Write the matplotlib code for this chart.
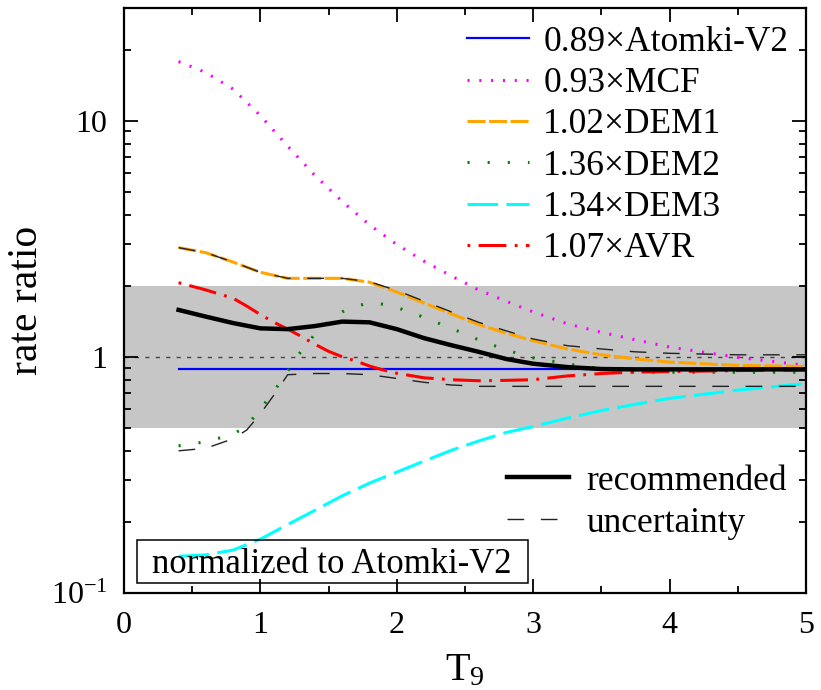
import matplotlib
matplotlib.use("Agg")
import matplotlib.pyplot as plt
from matplotlib.lines import Line2D
from matplotlib.patches import Rectangle
from matplotlib.ticker import MultipleLocator, LogLocator, NullFormatter

plt.rcParams['font.family'] = ['Liberation Serif', 'DejaVu Serif']
plt.rcParams['mathtext.fontset'] = 'custom'
plt.rcParams['mathtext.rm'] = 'Liberation Serif'
plt.rcParams['mathtext.it'] = 'Liberation Serif:italic'
plt.rcParams['lines.scale_dashes'] = False

# rate ratios vs T9, all normalized to Atomki-V2
T_atomki = [0.4, 5.0]
atomki = [0.89, 0.89]

T_mcf = [0.4, 0.6, 0.8, 1.0, 1.2, 1.4, 1.6, 1.8, 2.0, 2.2, 2.4, 2.6, 2.8, 3.0,
         3.25, 3.5, 3.75, 4.0, 4.5, 5.0]
mcf = [17.8, 16.0, 13.6, 10.5, 7.8, 5.86, 4.55, 3.62, 2.99, 2.54, 2.20, 1.92, 1.72,
       1.55, 1.38, 1.27, 1.18, 1.10, 0.995, 0.92]

T_dem1 = [0.4, 0.6, 0.8, 1.0, 1.2, 1.4, 1.6, 1.8, 2.0, 2.2, 2.4, 2.6, 2.8, 3.0,
          3.25, 3.5, 3.75, 4.0, 4.5, 5.0]
dem1 = [2.90, 2.76, 2.52, 2.28, 2.15, 2.15, 2.15, 2.07, 1.88, 1.69, 1.52, 1.37,
        1.26, 1.17, 1.08, 1.02, 0.98, 0.95, 0.92, 0.91]

T_dem2 = [0.4, 0.6, 0.8, 0.9, 1.0, 1.1, 1.2, 1.3, 1.4, 1.5, 1.6, 1.7, 1.8, 1.9,
          2.0, 2.2, 2.4, 2.6, 2.8, 3.0, 3.25, 3.5, 3.75, 4.0, 4.5, 5.0]
dem2 = [0.42, 0.437, 0.47, 0.51, 0.60, 0.715, 0.87, 1.06, 1.25, 1.41, 1.55, 1.64,
        1.69, 1.67, 1.62, 1.47, 1.32, 1.18, 1.07, 0.99, 0.934, 0.89, 0.86, 0.86,
        0.86, 0.86]

T_dem3 = [0.4, 0.6, 0.8, 1.0, 1.2, 1.4, 1.6, 1.8, 2.0, 2.2, 2.4, 2.6, 2.8, 3.0,
          3.25, 3.5, 3.75, 4.0, 4.5, 5.0]
dem3 = [0.143, 0.145, 0.152, 0.169, 0.195, 0.224, 0.258, 0.292, 0.325, 0.362,
        0.402, 0.44, 0.478, 0.507, 0.55, 0.592, 0.63, 0.667, 0.723, 0.77]

T_avr = [0.4, 0.6, 0.8, 0.9, 1.0, 1.1, 1.2, 1.3, 1.4, 1.5, 1.6, 1.7, 1.8, 1.9,
         2.0, 2.2, 2.4, 2.6, 2.8, 3.0, 3.25, 3.5, 3.75, 4.0, 4.5, 5.0]
avr = [2.06, 1.92, 1.77, 1.64, 1.51, 1.40, 1.31, 1.22, 1.13, 1.055, 1.0, 0.96,
       0.914, 0.88, 0.852, 0.815, 0.80, 0.792, 0.795, 0.80, 0.83, 0.85, 0.862,
       0.866, 0.875, 0.88]

T_rec = [0.4, 0.6, 0.8, 1.0, 1.2, 1.4, 1.6, 1.8, 2.0, 2.2, 2.4, 2.6, 2.8, 3.0,
         3.25, 3.5, 3.75, 4.0, 4.5, 5.0]
recommended = [1.58, 1.48, 1.39, 1.32, 1.31, 1.35, 1.41, 1.40, 1.31, 1.20, 1.12,
               1.05, 0.98, 0.935, 0.905, 0.888, 0.885, 0.885, 0.885, 0.885]

T_up = [0.4, 0.6, 0.8, 1.0, 1.2, 1.4, 1.6, 1.8, 2.0, 2.2, 2.4, 2.6, 2.8, 3.0,
        3.25, 3.5, 3.75, 4.0, 4.5, 5.0]
upper = [2.90, 2.76, 2.52, 2.28, 2.15, 2.15, 2.15, 2.08, 1.91, 1.72, 1.55, 1.40,
         1.29, 1.19, 1.115, 1.08, 1.05, 1.035, 1.02, 1.02]

T_low = [0.4, 0.6, 0.8, 0.9, 1.0, 1.1, 1.2, 1.4, 1.6, 1.8, 2.0, 2.2, 2.4, 2.6,
         3.0, 4.0, 5.0]
lower = [0.40, 0.41, 0.45, 0.49, 0.574, 0.69, 0.84, 0.85, 0.85, 0.84, 0.81, 0.78,
         0.76, 0.75, 0.75, 0.75, 0.75]

band_lo, band_hi = 0.5, 2.0

fig = plt.figure(figsize=(8.21, 6.9), dpi=100)
ax = fig.add_axes([124 / 821, 1 - 593 / 690, 682 / 821, 585 / 690])

ax.axhspan(band_lo, band_hi, color='#c6c6c6', lw=0, zorder=0)
ax.axhline(1.0, color='#444444', lw=1.0, ls=(0, (3, 4.5)), zorder=1)

ax.plot(T_atomki, atomki, color='#0000ff', lw=1.6, label=u'0.89\u00d7Atomki-V2')
ax.plot(T_mcf, mcf, color='#ff00ff', lw=2.2, ls=(0, (1.5, 7.0)), label=u'0.93\u00d7MCF')
ax.plot(T_dem1, dem1, color='#ffa500', lw=2.2, ls=(0, (13, 2.5)), label=u'1.02\u00d7DEM1')
ax.plot(T_dem2, dem2, color='#008000', lw=2.2, ls=(0, (1.5, 13)), label=u'1.36\u00d7DEM2')
ax.plot(T_dem3, dem3, color='#00ffff', lw=2.2, ls=(0, (22, 6)), label=u'1.34\u00d7DEM3')
ax.plot(T_avr, avr, color='#ff0000', lw=2.2, ls=(0, (2, 6, 20, 6)), label=u'1.07\u00d7AVR')

ax.plot(T_rec, recommended, color='black', lw=3.2, zorder=4)
ax.plot(T_up, upper, color='#222222', lw=1.0, ls=(0, (12, 12)), zorder=5)
ax.plot(T_low, lower, color='#222222', lw=1.0, ls=(0, (12, 12)), zorder=5)

ax.set_xlim(0, 5)
ax.set_yscale('log')
ax.set_ylim(0.1, 30)

ax.xaxis.set_major_locator(MultipleLocator(1))
ax.xaxis.set_minor_locator(MultipleLocator(0.5))
ax.set_yticks([0.1, 1, 10])
ax.set_yticklabels([r'$\mathregular{10^{-1}}$', '1', '10'])
ax.yaxis.set_minor_locator(LogLocator(base=10, subs=range(2, 10)))
ax.yaxis.set_minor_formatter(NullFormatter())

ax.tick_params(which='both', direction='in', top=True, right=True, width=1.3)
ax.tick_params(which='major', length=10, labelsize=23)
ax.tick_params(which='minor', length=5)
ax.tick_params(axis='x', pad=13)
ax.tick_params(axis='y', pad=12)
for sp in ax.spines.values():
    sp.set_linewidth(1.6)

ax.set_xlabel(r'T$_\mathregular{9}$', fontsize=29, labelpad=9)
ax.set_ylabel('rate ratio', fontsize=30, labelpad=3)

leg1 = ax.legend(loc='upper left', bbox_to_anchor=(0.503, 0.9695), frameon=False,
                 fontsize=25.5, borderpad=0, borderaxespad=0, handlelength=1.75,
                 handletextpad=0.4, labelspacing=0.235)
ax.add_artist(leg1)

rec_handles = [Line2D([], [], color='black', lw=3.2),
               Line2D([], [], color='#222222', lw=1.0, ls=(0, (12, 12)))]
ax.legend(rec_handles, ['recommended', 'uncertainty'], loc='upper left',
          bbox_to_anchor=(0.5616, 0.219), frameon=False, fontsize=25.5,
          borderpad=0, borderaxespad=0, handlelength=1.75, handletextpad=0.5,
          labelspacing=0.245)

ax.add_patch(Rectangle((0.019, 0.0171), 0.5733, 0.0735, transform=ax.transAxes,
                       fill=False, edgecolor='black', lw=1.1, zorder=6))
ax.text(0.305, 0.0342, 'normalized to Atomki-V2', transform=ax.transAxes,
        fontsize=25, ha='center', va='baseline', zorder=7)

fig.savefig('out.png', dpi=100)
